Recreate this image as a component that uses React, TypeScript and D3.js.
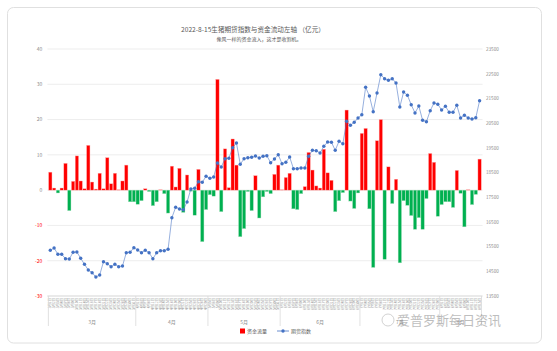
import React, { useEffect, useRef } from 'react';
import * as d3 from 'd3';

// trading days per month (2022)
const marchDays = [1, 2, 3, 4, 7, 8, 9, 10, 11, 14, 15, 16, 17, 18, 21, 22, 23, 24, 25, 28, 29, 30, 31];
const aprilDays = [1, 6, 7, 8, 11, 12, 13, 14, 15, 18, 19, 20, 21, 22, 25, 26, 27, 28, 29];
const mayDays = [5, 6, 9, 10, 11, 12, 13, 16, 17, 18, 19, 20, 23, 24, 25, 26, 27, 30, 31];
const juneDays = [1, 2, 6, 7, 8, 9, 10, 13, 14, 15, 16, 17, 20, 21, 22, 23, 24, 27, 28, 29, 30];
const julyDays = [1, 4, 5, 6, 7, 8, 11, 12, 13, 14, 15, 18, 19, 20, 21, 22, 25, 26, 27, 28, 29];
const augustDays = [1, 2, 3, 4, 5, 8, 9, 10, 11, 12, 15];
const monthNames = ['3月', '4月', '5月', '6月', '7月', '8月'];
const monthNums = [3, 4, 5, 6, 7, 8];

// 资金流量 (亿元)
const fundFlow = [
    5.1, 0.6, -0.8, 0.6, 7.6, -5.8, 2.5, 9.7, 2.6, 0.4, 12.7, 2.3, 0.3, 4.8, 0.4, 9.2, 1.8, 4.8, 0.1, 2.6,
    7.1, -3.3, -3.3, -4.0, -3.0, 0.4, -0.4, -4.4, -3.3, 0.1, -1.0, -6.5, 6.8, 0.9, 6.2, -6.3, 4.3, -0.3, -7.1, 5.9,
    -14.6, -5.5, -1.3, -1.7, 31.4, -6.1, 11.7, 0.7, 14.5, 7.1, -13.2, -10.9, -0.4, -5.8, 4.1, -7.9, -1.9, -0.4, -1.0, 4.5,
    7.1, 0.1, 3.6, 4.8, -5.3, -5.5, -1.0, 1.0, 10.7, 5.7, 1.2, 0.6, 11.6, 4.9, 2.8, -6.1, -3.0, -0.7, 22.7, -3.1,
    -5.2, -0.8, 16.1, 17.5, -5.3, -21.9, 14.0, 20.0, -19.6, 6.6, -3.8, 3.1, -20.6, -3.0, -4.3, -7.2, -11.1, -7.8, -11.1, -2.4,
    10.4, 7.9, -7.4, -4.1, -3.3, -3.3, -4.9, 5.6, -0.9, -10.4, 0.1, -4.1, -1.2, 8.8
];

// 期货指数
const futuresIndex = [
    15350, 15443, 15188, 15188, 15010, 14998, 15269, 15281, 15026, 14783, 14553, 14443, 14269, 14350, 14889, 14808, 14686, 14783, 14686, 14715,
    15253, 15269, 15455, 15362, 15253, 15350, 15253, 15010, 15253, 15334, 15334, 15391, 16670, 17091, 17022, 16994, 17306, 17832, 17860, 18128,
    18103, 18346, 18265, 18318, 18885, 18723, 19059, 19075, 19504, 19694, 18832, 19059, 19099, 19115, 19168, 19087, 19156, 19180, 18897, 19047,
    19221, 18856, 18913, 19128, 18654, 18654, 18682, 18682, 19156, 19399, 19383, 19289, 19561, 19735, 19723, 19399, 19763, 19666, 20573, 20411,
    20532, 20706, 20840, 21949, 21597, 20962, 21719, 22460, 22298, 22233, 22298, 22123, 21152, 21759, 21626, 21245, 20909, 21192, 20613, 20557,
    21002, 21314, 21261, 21030, 21180, 20937, 20937, 21221, 20706, 20816, 20706, 20666, 20719, 21407
];

const leftTicks = [40, 30, 20, 10, 0, -10, -20, -30];
const rightTicks = [23500, 22500, 21500, 20500, 19500, 18500, 17500, 16500, 15500, 14500, 13500];

const W = 557;
const H = 351;
const FONT = '"Noto Sans CJK SC", "Noto Sans", sans-serif';

export default function App() {
    const svgRef = useRef<SVGSVGElement>(null);

    useEffect(() => {
        document.body.style.margin = '0';
        if (!svgRef.current) return;
        const svg = d3.select(svgRef.current);
        svg.selectAll('*').remove();

        const monthDays = [marchDays, aprilDays, mayDays, juneDays, julyDays, augustDays];
        const dates: { key: string; label: string; month: number }[] = [];
        monthDays.forEach((days, mi) => {
            days.forEach(d => dates.push({ key: `${monthNums[mi]}-${d}`, label: `${monthNums[mi]}月${d}日`, month: mi }));
        });
        const data = dates.map((d, i) => ({ ...d, flow: fundFlow[i], idx: futuresIndex[i] }));

        const margin = { top: 49, right: 75.5, bottom: 55, left: 48.4 };
        const innerW = W - margin.left - margin.right;
        const innerH = H - margin.top - margin.bottom;

        // card
        svg.append('rect')
            .attr('x', 7.5).attr('y', 7.5)
            .attr('width', 534).attr('height', 335.5)
            .attr('rx', 6)
            .attr('fill', '#fff')
            .attr('stroke', '#e0e0e0');

        svg.append('text')
            .attr('x', 253).attr('y', 32)
            .attr('text-anchor', 'middle')
            .style('font-family', FONT).style('font-size', '6.6px').attr('fill', '#595959')
            .text('2022-8-15生猪期货指数与资金流动左轴 （亿元）');
        svg.append('text')
            .attr('x', 259).attr('y', 41)
            .attr('text-anchor', 'middle')
            .style('font-family', FONT).style('font-size', '5px').attr('fill', '#595959')
            .text('像风一样的资金流入，这才是收割机。');

        const g = svg.append('g').attr('transform', `translate(${margin.left},${margin.top})`);

        const x = d3.scaleBand()
            .domain(data.map(d => d.key))
            .range([0, innerW])
            .paddingInner(0.12)
            .paddingOuter(0.06);

        const yL = d3.scaleLinear().domain([-30, 40]).range([innerH, 0]);
        const yR = d3.scaleLinear().domain([13500, 23500]).range([innerH, 0]);

        // grid
        g.selectAll('line.grid')
            .data(leftTicks)
            .join('line')
            .attr('class', 'grid')
            .attr('x1', -1).attr('x2', innerW + 1)
            .attr('y1', d => yL(d)).attr('y2', d => yL(d))
            .attr('stroke', '#e9e9e9').attr('stroke-width', 0.8);

        // left labels
        g.selectAll('text.yl')
            .data(leftTicks)
            .join('text')
            .attr('class', 'yl')
            .attr('x', -6).attr('y', d => yL(d) + 1.8)
            .attr('text-anchor', 'end')
            .style('font-family', FONT).style('font-size', '5px')
            .attr('fill', d => (d < 0 ? '#ff0000' : '#8c8c8c'))
            .text(d => d);

        // right labels
        g.selectAll('text.yr')
            .data(rightTicks)
            .join('text')
            .attr('class', 'yr')
            .attr('x', innerW + 4.5).attr('y', d => yR(d) + 1.8)
            .style('font-family', FONT).style('font-size', '4.6px')
            .attr('fill', '#8c8c8c')
            .text(d => d);

        // bars
        g.selectAll('rect.bar')
            .data(data)
            .join('rect')
            .attr('class', 'bar')
            .attr('x', d => x(d.key)!)
            .attr('width', x.bandwidth())
            .attr('y', d => yL(Math.max(0, d.flow)))
            .attr('height', d => Math.abs(yL(d.flow) - yL(0)))
            .attr('fill', d => (d.flow >= 0 ? '#ff0000' : '#00b050'))
            .attr('stroke', d => (d.flow >= 0 ? '#ffb3b3' : '#a8e0bf'))
            .attr('stroke-width', 0.4);

        // line
        const line = d3.line<typeof data[number]>()
            .x(d => x(d.key)! + x.bandwidth() / 2)
            .y(d => yR(d.idx));
        g.append('path')
            .datum(data)
            .attr('d', line)
            .attr('fill', 'none')
            .attr('stroke', '#4472c4')
            .attr('stroke-width', 0.7)
            .attr('stroke-opacity', 0.8);
        g.selectAll('circle.pt')
            .data(data)
            .join('circle')
            .attr('class', 'pt')
            .attr('cx', d => x(d.key)! + x.bandwidth() / 2)
            .attr('cy', d => yR(d.idx))
            .attr('r', 1.7)
            .attr('fill', '#4472c4');

        // x axis
        g.append('line')
            .attr('x1', -1).attr('x2', innerW + 1)
            .attr('y1', innerH).attr('y2', innerH)
            .attr('stroke', '#d9d9d9').attr('stroke-width', 0.8);

        g.selectAll('text.xl')
            .data(data)
            .join('text')
            .attr('class', 'xl')
            .attr('transform', d => `translate(${x(d.key)! + x.bandwidth() / 2 + 1.2},${innerH + 2}) rotate(-90)`)
            .attr('text-anchor', 'end')
            .style('font-family', FONT).style('font-size', '3.3px')
            .attr('fill', '#8c8c8c')
            .text(d => d.label);

        // month groups
        const step = x.step();
        const groups = monthNames.map((name, mi) => {
            const items = data.filter(d => d.month === mi);
            const start = x(items[0].key)! - (step - x.bandwidth()) / 2;
            const end = x(items[items.length - 1].key)! + x.bandwidth() + (step - x.bandwidth()) / 2;
            return { name, start, end };
        });
        const bounds = [groups[0].start, ...groups.map(gr => gr.end)];
        g.selectAll('line.sep')
            .data(bounds)
            .join('line')
            .attr('class', 'sep')
            .attr('x1', d => d).attr('x2', d => d)
            .attr('y1', innerH).attr('y2', innerH + 30)
            .attr('stroke', '#d9d9d9').attr('stroke-width', 0.8);
        g.selectAll('text.month')
            .data(groups)
            .join('text')
            .attr('class', 'month')
            .attr('x', d => (d.start + d.end) / 2)
            .attr('y', innerH + 28)
            .attr('text-anchor', 'middle')
            .style('font-family', FONT).style('font-size', '5px')
            .attr('fill', '#8c8c8c')
            .text(d => d.name);

        // legend
        const lg = svg.append('g').attr('transform', 'translate(240,331)');
        lg.append('rect').attr('x', 0).attr('y', -2.5).attr('width', 5).attr('height', 5).attr('fill', '#ff0000');
        lg.append('text').attr('x', 7).attr('y', 1.8)
            .style('font-family', FONT).style('font-size', '5px').attr('fill', '#595959').text('资金流量');
        lg.append('line').attr('x1', 37).attr('x2', 49).attr('y1', 0).attr('y2', 0)
            .attr('stroke', '#4472c4').attr('stroke-width', 0.8);
        lg.append('circle').attr('cx', 43).attr('cy', 0).attr('r', 1.7).attr('fill', '#4472c4');
        lg.append('text').attr('x', 51).attr('y', 1.8)
            .style('font-family', FONT).style('font-size', '5px').attr('fill', '#595959').text('期货指数');

        // watermark
        const wm = svg.append('g').attr('opacity', 0.55);
        wm.append('circle').attr('cx', 388).attr('cy', 320).attr('r', 6)
            .attr('fill', 'none').attr('stroke', '#9a9a9a').attr('stroke-width', 0.8);
        wm.append('text').attr('x', 397).attr('y', 325)
            .style('font-family', FONT).style('font-size', '13px').attr('fill', '#8a8a8a')
            .text('爱普罗斯每日资讯');
    }, []);

    return (
        <div style={{ width: W, height: H }}>
            <svg ref={svgRef} width={W} height={H} style={{ display: 'block' }} />
        </div>
    );
}
